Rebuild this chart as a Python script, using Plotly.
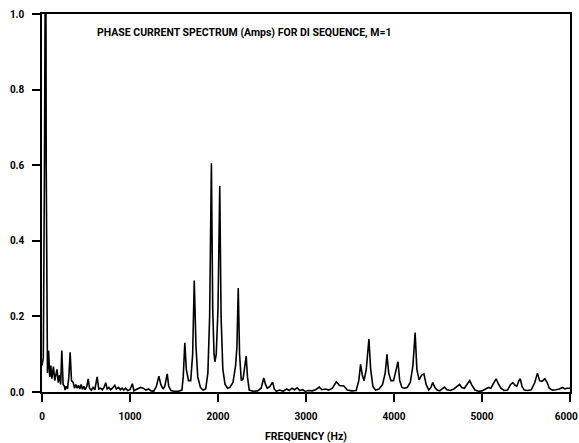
import plotly.graph_objects as go

freq_hz = [
    0, 15, 28, 35, 42, 48, 55, 62, 75, 88, 100, 112, 130, 145, 170, 185, 200, 212, 225, 240,
    255, 262, 275, 290, 305, 320, 335, 355, 370, 385, 400, 415, 430, 445, 460, 475, 490, 510,
    525, 540, 560, 580, 600, 627, 645, 665, 685, 705, 725, 740, 760, 780, 800, 827, 845, 870,
    890, 910, 930, 950, 975, 1000, 1027, 1045, 1065, 1090, 1120, 1150, 1180, 1210, 1240, 1270,
    1300, 1328, 1350, 1375, 1395, 1423, 1440, 1465, 1500, 1550, 1590, 1605, 1623, 1640, 1665,
    1690, 1712, 1730, 1750, 1770, 1800, 1830, 1860, 1885, 1905, 1925, 1940, 1955, 1965, 1980,
    2000, 2020, 2035, 2055, 2080, 2110, 2135, 2170, 2200, 2215, 2230, 2245, 2265, 2285, 2300,
    2320, 2335, 2355, 2400, 2450, 2490, 2520, 2540, 2560, 2590, 2620, 2640, 2660, 2700, 2740,
    2780, 2810, 2840, 2870, 2900, 2930, 2960, 2990, 3030, 3070, 3110, 3150, 3180, 3220, 3260,
    3300, 3345, 3380, 3430, 3470, 3520, 3570, 3600, 3620, 3640, 3660, 3685, 3715, 3735, 3760,
    3790, 3830, 3870, 3900, 3920, 3940, 3965, 3995, 4025, 4045, 4065, 4090, 4115, 4150, 4185,
    4215, 4240, 4260, 4285, 4315, 4340, 4365, 4395, 4420, 4440, 4465, 4490, 4520, 4545, 4575,
    4600, 4640, 4680, 4720, 4745, 4770, 4800, 4835, 4860, 4885, 4920, 4960, 5000, 5040, 5075,
    5100, 5130, 5160, 5185, 5215, 5250, 5290, 5325, 5350, 5375, 5395, 5420, 5435, 5455, 5480,
    5520, 5560, 5600, 5630, 5655, 5680, 5715, 5740, 5765, 5800, 5840, 5880, 5915, 5940, 5965,
    5985, 6000,
]

amps = [
    0.07, 0.09, 0.6, 1.4, 1.4, 0.6, 0.09, 0.05, 0.11, 0.04, 0.07, 0.035, 0.067, 0.03, 0.06, 0.025, 0.045, 0.02, 0.11, 0.02,
    0.015, 0.005, 0.015, 0.008, 0.04, 0.105, 0.03, 0.025, 0.01, 0.02, 0.01, 0.018, 0.008, 0.02, 0.007, 0.015, 0.006, 0.015,
    0.035, 0.01, 0.005, 0.012, 0.006, 0.04, 0.008, 0.01, 0.006, 0.012, 0.025, 0.008, 0.012, 0.006, 0.01, 0.018, 0.008, 0.012,
    0.006, 0.01, 0.005, 0.01, 0.004, 0.006, 0.022, 0.003, 0.006, 0.008, 0.012, 0.01, 0.005, 0.008, 0.003, 0.002,
    0.015, 0.042, 0.02, 0.008, 0.015, 0.048, 0.015, 0.004, 0.002, 0.002, 0.005, 0.04, 0.13, 0.06, 0.03,
    0.03, 0.1, 0.295, 0.12, 0.04, 0.012, 0.005, 0.008, 0.05, 0.2, 0.605, 0.22, 0.1, 0.08, 0.1,
    0.22, 0.545, 0.2, 0.06, 0.02, 0.01, 0.012, 0.025, 0.07, 0.12, 0.275, 0.1, 0.03, 0.035, 0.06,
    0.095, 0.04, 0.005, 0.002, 0.003, 0.01, 0.037, 0.02, 0.01, 0.015, 0.026, 0.008, 0.002, 0.005, 0.002,
    0.008, 0.004, 0.01, 0.006, 0.011, 0.004, 0.006, 0.002, 0.004, 0.003, 0.006, 0.013, 0.006, 0.008, 0.005,
    0.01, 0.027, 0.017, 0.016, 0.005, 0.003, 0.004, 0.03, 0.073, 0.045, 0.03, 0.06, 0.14, 0.06, 0.015,
    0.005, 0.008, 0.02, 0.05, 0.1, 0.05, 0.03, 0.03, 0.06, 0.08, 0.03, 0.012, 0.01, 0.012, 0.025,
    0.07, 0.157, 0.06, 0.032, 0.045, 0.048, 0.02, 0.005, 0.012, 0.025, 0.012, 0.005, 0.003, 0.008, 0.013,
    0.006, 0.004, 0.008, 0.015, 0.02, 0.012, 0.01, 0.022, 0.03, 0.018, 0.005, 0.002, 0.003, 0.008, 0.012,
    0.01, 0.022, 0.035, 0.022, 0.01, 0.004, 0.005, 0.02, 0.025, 0.018, 0.015, 0.03, 0.035, 0.015, 0.005,
    0.004, 0.006, 0.025, 0.05, 0.03, 0.028, 0.035, 0.025, 0.01, 0.005, 0.006, 0.008, 0.012, 0.008, 0.01,
    0.009, 0.01,
]

x_ticks = [0, 1000, 2000, 3000, 4000, 5000, 6000]
x_tick_text = ["0", "1000", "2000", "3000", "4000", "5000", "6000\u00a0\u00a0\u00a0"]
y_ticks = [0.0, 0.2, 0.4, 0.6, 0.8, 1.0]
y_tick_text = ["0.0", "0.2", "0.4", "0.6", "0.8", "1.0"]
title_text = "PHASE CURRENT SPECTRUM (Amps) FOR DI SEQUENCE, M=1"
x_title = "FREQUENCY (Hz)"

FONT = "Roboto, Liberation Sans, sans-serif"
TICKFONT = dict(family=FONT, size=10, color="black", weight="bold")
TEXTFONT = dict(family=FONT, size=10.5, color="black", weight="bold")

fig = go.Figure()
fig.add_trace(go.Scatter(
    x=freq_hz, y=amps, mode="lines",
    line=dict(color="black", width=1.6),
    showlegend=False, hoverinfo="skip",
))

fig.update_layout(
    width=579, height=443,
    margin=dict(l=42, r=9, t=14, b=51, autoexpand=False),
    paper_bgcolor="white", plot_bgcolor="white",
    font=dict(family=FONT, color="black", size=10),
    annotations=[dict(
        text=title_text, xref="paper", yref="paper",
        x=0.10, y=0.952, xanchor="left", yanchor="middle", showarrow=False,
        font=TEXTFONT,
    )],
)

fig.update_xaxes(
    range=[0, 6000], tickvals=x_ticks, ticktext=x_tick_text,
    tickfont=TICKFONT, ticklabeloverflow="allow",
    ticks="outside", ticklen=8, tickwidth=1.5, tickcolor="black",
    showline=True, linecolor="black", linewidth=1.5, mirror=True,
    showgrid=False, zeroline=False, ticklabelstandoff=6,
    title=dict(text=x_title, font=TEXTFONT, standoff=12),
)
fig.update_yaxes(
    range=[0, 1.0], tickvals=y_ticks, ticktext=y_tick_text,
    tickfont=TICKFONT,
    ticks="outside", ticklen=8, tickwidth=1.5, tickcolor="black",
    showline=True, linecolor="black", linewidth=1.5, mirror=True,
    showgrid=False, zeroline=False, ticklabelstandoff=6,
)

fig.write_html("out.html")
